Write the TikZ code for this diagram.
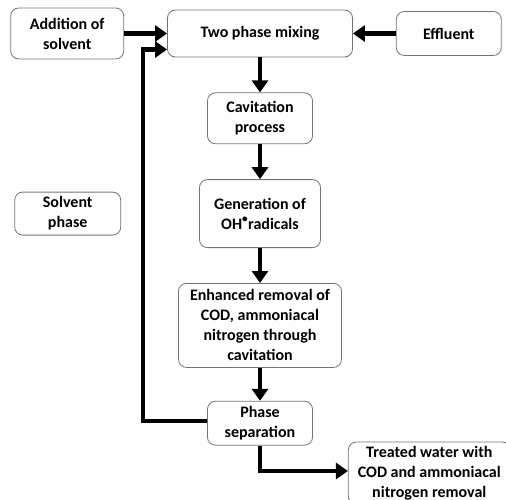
\documentclass[tikz,border=0pt]{standalone}
\usepackage{fontspec}
\setmainfont{Carlito}
\usetikzlibrary{arrows.meta,positioning}

\begin{document}
\begin{tikzpicture}[
    node distance=35pt and 43pt,
    every node/.style={font=\fontsize{16}{20}\selectfont\bfseries,align=center},
    box/.style={rectangle,rounded corners=8pt,draw=black!55,line width=0.8pt,inner sep=2pt},
    arr/.style={-{Triangle[length=12pt,width=16pt]},line width=4.5pt}
  ]
    \useasboundingbox (0pt,0pt) rectangle (506pt,-500pt);
    \node[box,minimum width=185pt,minimum height=47pt] (mix) at (260pt,-33.5pt) {Two phase mixing};
    \node[box,minimum width=113pt,minimum height=51pt,left=of mix] (addsolv) {Addition of\\solvent};
    \node[box,minimum width=105pt,minimum height=44pt,right=of mix] (eff) {Effluent};
    \node[box,minimum width=105pt,minimum height=51pt,below=of mix] (cav) {Cavitation\\process};
    \node[box,minimum width=121pt,minimum height=68pt,below=of cav] (gen) {Generation of\\OH\textsuperscript{\textbullet}radicals};
    \node[box,minimum width=163pt,minimum height=84pt,below=of gen] (enh) {Enhanced removal of\\COD, ammoniacal\\nitrogen through\\cavitation};
    \node[box,minimum width=105pt,minimum height=44pt,below=33pt of enh] (sep) {Phase\\separation};
    \node[box,minimum width=106pt,minimum height=43pt,left=78pt of gen] (solv) {Solvent\\phase};
    \node[box,minimum width=162pt,minimum height=62pt,below right=-4pt and 35pt of sep] (treat) {Treated water with\\COD and ammoniacal\\nitrogen removal};
    \draw[arr] (addsolv) -- (mix);
    \draw[arr] (eff) -- (mix);
    \draw[arr] (mix) -- (cav);
    \draw[arr] (cav) -- (gen);
    \draw[arr] (gen) -- (enh);
    \draw[arr] (enh) -- (sep);
    \draw[arr] ([yshift=2pt]sep.west) -- ++(-64pt,0) |- ([yshift=-16pt]mix.west);
    \draw[arr] (sep.south) |- ([yshift=2pt]treat.west);
  \end{tikzpicture}
\end{document}
